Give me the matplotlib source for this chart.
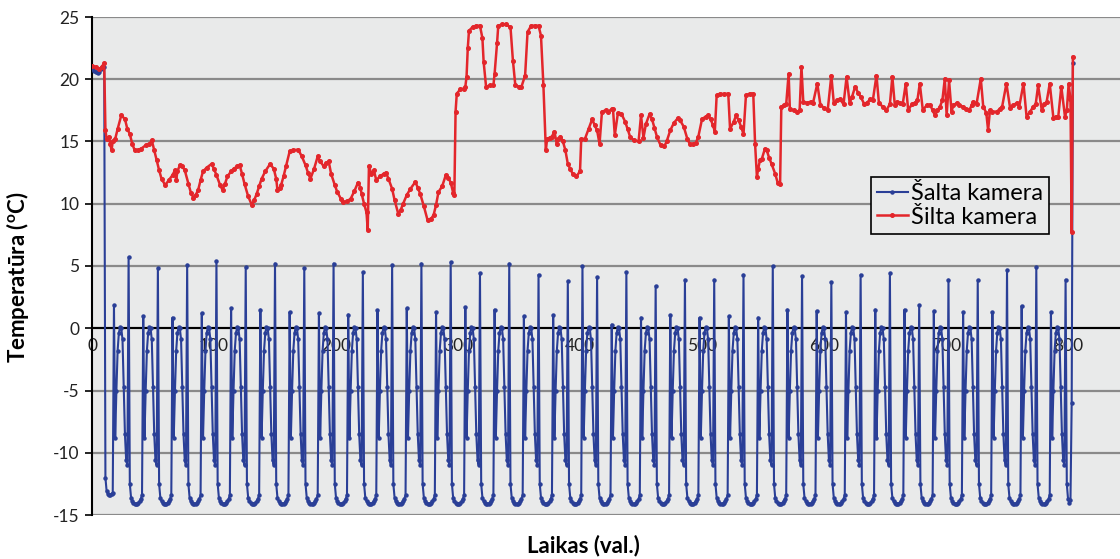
import numpy as np
import matplotlib.pyplot as plt

plt.rcParams['font.family'] = ['Lato', 'DejaVu Sans']
plt.rcParams['mathtext.default'] = 'regular'
plt.rcParams['axes.unicode_minus'] = False

# --- Šalta kamera (cold chamber) ---
# one freezer cycle, 24 readings; slot 0 = defrost spike, slot 12 = mid peak
cycle_shape = [None, -12.5, -13.6, -13.9, -14.0, -14.1, -14.1, -14.1, -14.0, -13.9, -13.7, -13.4,
               None, -8.8, -5.0, -1.8, -0.4, 0.1, 0.0, -0.9, -4.7, -8.5, -10.6, -11.0]
spike_peaks = [5.7, 4.8, 5.1, 5.4, 4.9, 5.2, 4.8, 5.2, 4.5, 5.1, 5.2, 5.3, 4.4, 5.2, 4.3, 3.8, 4.1,
               4.5, 3.4, 3.9, 3.9, 4.3, 5.0, 4.2, 3.7, 4.3, 4.4, 1.85, 3.9, 3.85, 4.7, 4.9, 3.9]
mid_peaks = [1.85, 0.96, 0.86, 1.23, 1.6, 1.5, 1.3, 1.2, 1.1, 1.45, 1.6, 1.3, 1.7, 1.5, 0.96, 1.04,
             5.0, 0.3, 0.86, 1.04, 0.86, 0.96, 0.86, 1.5, 1.4, 1.3, 1.5, 1.5, 1.4, 1.3, 1.3, 1.8, 1.3]
cold_head = [20.9, 20.8, 20.7, 20.6, 20.6, 20.5, 20.6, 20.8, 21.0, 21.1, 21.0,
             -12.0, -13.1, -13.3, -13.4, -13.4, -13.3, -13.2]
cold_tail = [-12.5, -13.7, -14.0, -13.8, -6.0, 21.3]

# --- Šilta kamera (warm chamber) ---
warm_x = [0, 3, 6, 8, 10, 11, 12, 14, 15, 16, 17, 19, 21, 24, 27, 29, 31, 33, 35, 38, 40, 44, 47, 49,
          51, 53, 55, 57, 60, 63, 66, 68, 69, 70, 72, 74, 76, 79, 81, 83, 85, 87, 89, 91, 94, 98, 100,
          102, 105, 107, 109, 111, 114, 116, 119, 121, 123, 125, 128, 131, 133, 135, 137, 139, 142,
          146, 149, 151, 152, 154, 155, 157, 159, 162, 165, 169, 172, 175, 177, 179, 182, 185, 187,
          190, 192, 194, 196, 199, 201, 204, 206, 209, 212, 215, 218, 220, 221, 223, 225, 226, 227,
          229, 231, 233, 236, 239, 241, 243, 246, 248, 251, 253, 255, 258, 261, 265, 267, 269, 272,
          275, 278, 280, 282, 284, 287, 290, 292, 294, 296, 297, 298, 299, 302, 305, 306, 307, 308,
          309, 312, 315, 318, 320, 321, 323, 326, 329, 330, 332, 333, 336, 339, 343, 345, 347, 350,
          352, 355, 357, 360, 363, 366, 368, 370, 372, 373, 375, 377, 379, 381, 382, 384, 386, 388,
          390, 392, 394, 397, 400, 401, 404, 407, 410, 412, 414, 416, 418, 421, 423, 426, 427, 428.5,
          431, 434, 437, 439, 441, 444, 448, 450, 452, 454, 457, 459, 461, 463, 466, 469, 471, 474,
          477, 480, 482, 485, 488, 490, 493, 495, 497, 500, 503, 505, 507, 509, 510.5, 512, 515, 518,
          521.5, 523, 526, 528, 530, 532, 534, 536, 539, 542, 543.5, 545, 546, 547.5, 549, 551.5, 553,
          555, 557, 560, 562, 564, 565, 567, 569, 571, 572, 575, 578, 580, 581.5, 583, 586, 589, 591,
          594.5, 597, 600, 603, 606, 608, 611, 613, 616, 618.5, 621, 623, 625.5, 628, 630, 633, 635,
          638, 640, 643, 645, 648, 651, 654, 656, 658, 660, 662, 664.5, 667, 669, 672, 674.5, 676.5,
          678.5, 681, 684, 687, 689, 691, 693, 695, 697, 699, 700.5, 702.5, 704.5, 706, 709, 711, 714,
          716.5, 719, 721, 722.5, 725, 728.5, 730.5, 733, 734.5, 736, 738, 741.5, 744, 746, 749.5,
          752.5, 755, 758, 760, 763.5, 766, 769, 771.5, 773.5, 775.5, 778.5, 780.5, 782.5, 785, 788,
          790, 792, 794.5, 797.5, 799, 800.5, 802, 803, 804]
warm_y = [21.1, 21.0, 20.8, 21.0, 21.3, 15.9, 15.2, 15.4, 14.8, 14.3, 15.0, 15.2, 16.0, 17.1, 16.8,
          16.0, 15.6, 14.8, 14.3, 14.3, 14.4, 14.7, 14.8, 15.1, 14.3, 13.5, 12.7, 12.0, 11.5, 11.9,
          12.3, 12.7, 11.9, 12.6, 13.1, 13.0, 12.7, 11.6, 10.9, 10.5, 10.7, 11.1, 11.9, 12.6, 12.9,
          13.2, 12.8, 12.3, 11.5, 11.1, 11.6, 12.2, 12.6, 12.8, 13.0, 13.1, 12.4, 11.6, 10.6, 9.9,
          10.3, 10.8, 11.4, 12.0, 12.6, 13.2, 12.8, 12.0, 11.1, 11.3, 11.5, 12.2, 13.0, 14.2, 14.3,
          14.35, 13.8, 13.1, 12.5, 12.0, 12.8, 13.8, 13.4, 13.0, 13.3, 13.4, 12.4, 11.5, 10.95, 10.4,
          10.15, 10.2, 10.4, 11.0, 11.7, 11.3, 10.8, 10.0, 9.3, 7.9, 13.0, 12.4, 12.7, 11.9, 12.2,
          12.4, 12.5, 12.0, 11.2, 10.3, 9.2, 9.5, 10.0, 10.7, 11.2, 11.75, 11.3, 10.8, 9.8, 8.7, 8.8,
          9.1, 9.9, 10.95, 11.4, 12.3, 12.1, 11.7, 10.9, 10.7, 17.4, 18.85, 19.2, 19.25, 19.4, 20.2,
          22.5, 23.9, 24.2, 24.3, 24.3, 23.3, 21.4, 19.4, 19.5, 19.5, 20.45, 22.9, 24.3, 24.4, 24.4,
          24.2, 21.5, 19.5, 19.4, 19.4, 20.3, 23.8, 24.3, 24.3, 24.3, 23.5, 19.5, 14.3, 15.2, 15.3,
          15.4, 15.8, 14.8, 15.2, 15.4, 15.0, 14.3, 13.2, 12.8, 12.4, 12.2, 12.6, 15.2, 15.2, 16.0,
          16.8, 16.3, 15.9, 14.8, 17.4, 17.5, 17.4, 17.6, 17.65, 15.5, 17.25, 17.2, 16.6, 16.0, 15.4,
          15.1, 15.0, 17.1, 15.3, 16.4, 17.2, 16.8, 16.1, 15.4, 14.7, 14.6, 15.0, 15.9, 16.5, 16.85,
          16.7, 16.2, 15.2, 14.8, 14.8, 14.9, 15.4, 16.8, 17.0, 17.1, 16.8, 16.3, 15.8, 18.7, 18.85,
          18.8, 18.85, 16.0, 16.6, 17.1, 16.7, 16.2, 15.6, 18.7, 18.85, 18.85, 14.8, 12.15, 12.8,
          13.5, 13.6, 14.4, 14.3, 13.7, 13.2, 12.4, 11.7, 11.6, 17.8, 17.9, 18.0, 20.45, 17.6, 17.5,
          17.4, 17.5, 21.0, 18.2, 18.1, 18.2, 18.1, 19.65, 17.95, 17.7, 17.5, 20.3, 18.1, 18.3, 18.4,
          18.0, 20.2, 18.1, 18.6, 19.4, 18.9, 18.6, 18.0, 18.1, 18.4, 18.3, 20.3, 18.1, 17.8, 17.5,
          18.0, 20.2, 17.95, 18.2, 18.1, 18.0, 19.65, 17.5, 18.0, 18.1, 18.3, 19.65, 17.5, 17.9,
          17.95, 17.5, 17.1, 17.5, 17.8, 18.3, 20.05, 17.1, 19.9, 17.4, 17.9, 18.1, 17.9, 17.8, 17.6,
          17.5, 17.9, 18.2, 18.0, 20.05, 17.8, 17.3, 15.9, 17.5, 17.4, 17.4, 17.6, 17.8, 19.65, 17.7,
          17.9, 18.1, 17.8, 19.65, 17.0, 17.4, 17.8, 18.0, 19.5, 17.5, 18.0, 18.2, 19.65, 16.9, 17.0,
          17.0, 19.4, 17.0, 17.5, 19.65, 18.4, 7.7, 21.8]

y_ticks = [-15, -10, -5, 0, 5, 10, 15, 20, 25]
x_ticks = [0, 100, 200, 300, 400, 500, 600, 700, 800]

# assemble the cold-chamber series cycle by cycle
cold_y = list(cold_head) + [mid_peaks[0]] + cycle_shape[13:]
for i, h in enumerate(spike_peaks):
    if i == len(spike_peaks) - 1:
        cold_y += [h] + cold_tail
    else:
        cold_y += [h] + cycle_shape[1:12] + [mid_peaks[i + 1]] + cycle_shape[13:]
cold_x = np.arange(len(cold_y))

fig = plt.figure(figsize=(11.2, 5.59), dpi=100)
ax = fig.add_axes([92 / 1120, 44 / 559, 1028 / 1120, 498 / 559])
ax.set_facecolor('#e9eaea')

ax.plot(cold_x, cold_y, color='#2a3f97', lw=1.5, marker='o', ms=2.2, label='Šalta kamera', zorder=3)
ax.plot(warm_x, warm_y, color='#e3262b', lw=1.8, marker='o', ms=2.6, label='Šilta kamera', zorder=4)

ax.set_xlim(0, 842.6)
ax.set_ylim(-15, 25)
ax.set_yticks(y_ticks)
ax.set_xticks(x_ticks)
ax.yaxis.grid(True, color='#8a8a8a', lw=1.6)
ax.set_axisbelow(True)

for s in ['top', 'right']:
    ax.spines[s].set_visible(False)
ax.spines['bottom'].set_position(('data', 0))
ax.spines['bottom'].set_linewidth(1.5)
ax.spines['left'].set_linewidth(1.5)
ax.tick_params(axis='x', length=0, pad=7, labelsize=12.5, labelcolor='#222222')
ax.tick_params(axis='y', length=5, width=1.2, pad=4, labelsize=12.5, labelcolor='#222222')

fig.text(18 / 1120, 1 - 277 / 559, 'Temperatūra ($^{o}$C)', rotation=90, ha='center', va='center',
         fontsize=16, fontweight='bold')
fig.text(583 / 1120, 1 - 546 / 559, 'Laikas (val.)', ha='center', va='center',
         fontsize=16, fontweight='bold')

leg = ax.legend(loc='upper left', bbox_to_anchor=(871 / 1120, 1 - 177 / 559),
                bbox_transform=fig.transFigure, fancybox=False, edgecolor='black',
                facecolor='#e9eaea', framealpha=1, fontsize=17, handlelength=1.3,
                borderpad=0.25, labelspacing=0.12, handletextpad=0.15, borderaxespad=0)
leg.get_frame().set_linewidth(1.2)

fig.savefig('out.png', dpi=100)
